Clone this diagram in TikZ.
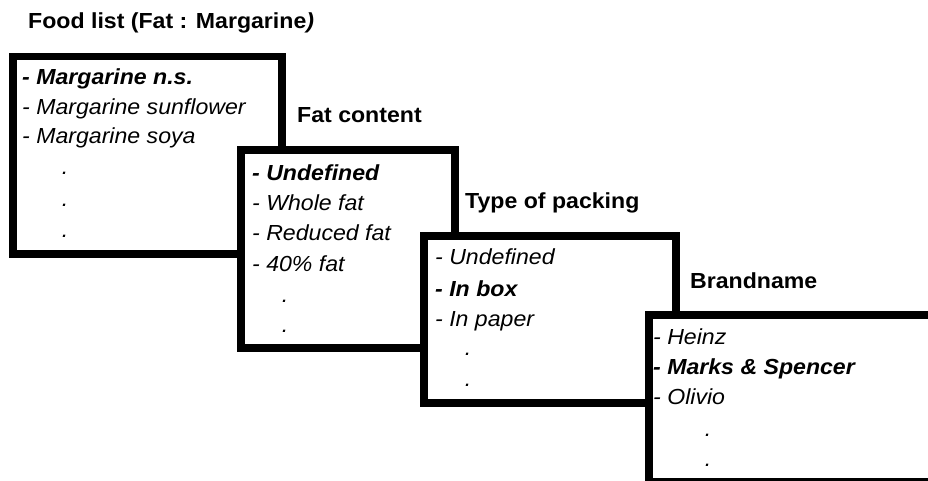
\documentclass[tikz,border=0pt]{standalone}
\usepackage{fontspec}
\setmainfont{Liberation Sans}[FakeStretch=1.06]
\begin{document}
\begin{tikzpicture}[x=1pt,y=-1pt,
  panel/.style={draw=black, line width=7.5pt, fill=white, rectangle,
    inner sep=0pt, anchor=north west},
  heading/.style={anchor=base west, inner sep=0pt,
    font=\fontsize{21.8}{26}\selectfont\bfseries},
  item/.style={anchor=base west, inner sep=0pt,
    font=\fontsize{21.8}{26}\selectfont\itshape},
  chosen/.style={anchor=base west, inner sep=0pt,
    font=\fontsize{21.8}{26}\selectfont\bfseries\itshape},
  more/.style={anchor=base, inner sep=0pt,
    font=\fontsize{21.8}{26}\selectfont\itshape}]
\useasboundingbox (0,0) rectangle (928,481);

% stacked selection panels, each one covering the corner of the previous
\node[panel, minimum width=269pt, minimum height=197pt] (food) at (9,53) {};
\node[panel, minimum width=214pt, minimum height=197.5pt] (fat) at (237,146.5) {};
\node[panel, minimum width=252pt, minimum height=167pt] (pack) at (420,232) {};
\node[panel, minimum width=300pt, minimum height=167pt] (brand) at (645,311) {};

% panel titles
\node[heading] (foodT) at (28,28.5) {Food list (Fat : Margarine\textit{)}};
\node[heading] (fatT) at (297,123) {Fat content};
\node[heading] (packT) at (465,208) {Type of packing};
\node[heading] (brandT) at (690,288) {Brandname};

% food list
\node[chosen] (f1) at (22,85) {- Margarine n.s.};
\node[item] (f2) at (22,115) {- Margarine sunflower};
\node[item] (f3) at (22,144) {- Margarine soya};
\node[more] (f4) at (65,175) {.};
\node[more] (f5) at (65,206) {.};
\node[more] (f6) at (65,237) {.};

% fat content
\node[chosen] (c1) at (252,181) {- Undefined};
\node[item] (c2) at (252,211) {- Whole fat};
\node[item] (c3) at (252,240) {- Reduced fat};
\node[item] (c4) at (252,271) {- 40\% fat};
\node[more] (c5) at (285,302) {.};
\node[more] (c6) at (285,332) {.};

% type of packing
\node[item] (p1) at (435,264) {- Undefined};
\node[chosen] (p2) at (435,296) {- In box};
\node[item] (p3) at (435,326) {- In paper};
\node[more] (p4) at (468,355) {.};
\node[more] (p5) at (468,386) {.};

% brand name
\node[item] (b1) at (653,344) {- Heinz};
\node[chosen] (b2) at (653,374) {- Marks \& Spencer};
\node[item] (b3) at (653,404) {- Olivio};
\node[more] (b4) at (708,436) {.};
\node[more] (b5) at (708,466) {.};
\end{tikzpicture}
\end{document}
